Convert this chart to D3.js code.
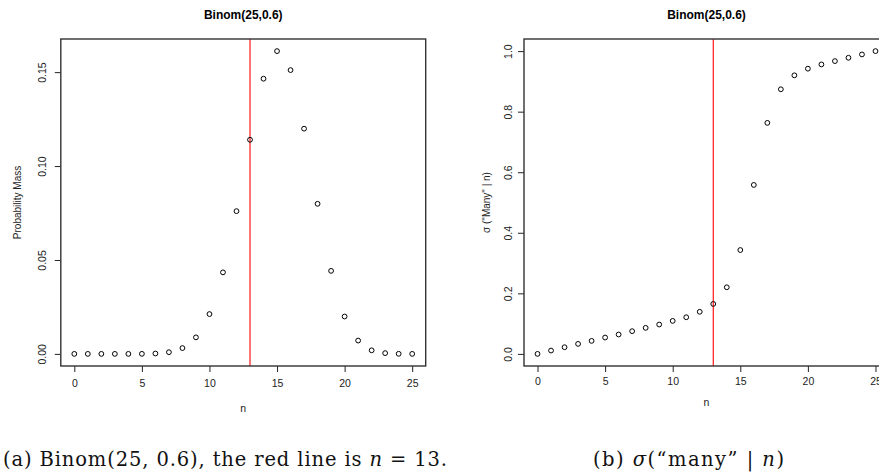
<!DOCTYPE html>
<html>
<head>
<meta charset="utf-8">
<script src="https://cdn.jsdelivr.net/npm/d3@7"></script>
<style>
  body { margin: 0; background: #fff; }
  svg { display: block; }
  .tick text { font-family: "Liberation Sans", Arial, sans-serif; }
</style>
</head>
<body>
<div id="chart"></div>
<script>
// Data
const nValues = d3.range(0, 26);
const pmfValues = [0.0000, 0.0000, 0.0000, 0.0000, 0.0000, 0.00003, 0.0002, 0.0009, 0.0031, 0.0088,
                   0.0212, 0.0434, 0.0760, 0.1140, 0.1465, 0.1612, 0.1511, 0.1199, 0.0799, 0.0442,
                   0.0199, 0.0071, 0.0019, 0.0004, 0.00005, 0.000003];
const sigmaValues = [0.000, 0.011, 0.022, 0.033, 0.043, 0.054, 0.064, 0.075, 0.086, 0.097,
                     0.109, 0.121, 0.139, 0.165, 0.220, 0.343, 0.558, 0.763, 0.874, 0.920,
                     0.942, 0.956, 0.967, 0.978, 0.989, 1.000];
const xTicks = [0, 5, 10, 15, 20, 25];
const pmfTicks = [0, 0.05, 0.10, 0.15];
const sigmaTicks = [0, 0.2, 0.4, 0.6, 0.8, 1.0];
const redLineAt = 13;

const W = 879, H = 476;
const svg = d3.select("#chart").append("svg")
    .attr("width", W).attr("height", H)
    .attr("viewBox", [0, 0, W, H]);

const sans = "'Liberation Sans', Arial, Helvetica, sans-serif";

function panel(opts) {
    const g = svg.append("g");
    const ext = (lo, hi) => [lo - 0.04 * (hi - lo), hi + 0.04 * (hi - lo)];

    const x = d3.scaleLinear().domain(ext(0, 25)).range([opts.left, opts.right]);
    const yMax = d3.max(opts.values);
    const y = d3.scaleLinear().domain(ext(0, yMax)).range([366, 39]);

    // x axis
    g.append("g")
        .attr("transform", `translate(0,${y.range()[0]})`)
        .call(d3.axisBottom(x).tickValues(xTicks).tickSize(6).tickPadding(opts.xPad))
        .call(a => a.select(".domain").remove())
        .call(a => a.selectAll("line").attr("stroke", "#222"))
        .call(a => a.selectAll("text").attr("font-size", 10.5).attr("fill", "#222"));

    // y axis with rotated labels, R style
    const ya = g.append("g")
        .attr("transform", `translate(${opts.left},0)`)
        .call(d3.axisLeft(y).tickValues(opts.yTicks).tickSize(6).tickFormat(d3.format(opts.yFmt)))
        .call(a => a.select(".domain").remove())
        .call(a => a.selectAll("line").attr("stroke", "#222"));
    ya.selectAll("text")
        .attr("font-size", 10.5).attr("fill", "#222")
        .attr("x", null).attr("dy", null)
        .attr("text-anchor", "middle")
        .attr("transform", `translate(${-opts.left + opts.yLabX},0) rotate(-90)`);

    // red reference line
    g.append("line")
        .attr("x1", x(redLineAt)).attr("x2", x(redLineAt))
        .attr("y1", y.range()[1]).attr("y2", y.range()[0])
        .attr("stroke", "#ff0000").attr("stroke-width", 1.1);

    // box
    g.append("rect")
        .attr("x", opts.left).attr("y", y.range()[1])
        .attr("width", opts.right - opts.left).attr("height", y.range()[0] - y.range()[1])
        .attr("fill", "none").attr("stroke", "#333").attr("stroke-width", 1.4);

    // points
    g.append("g").selectAll("circle")
        .data(nValues.map((n, i) => ({ n, v: opts.values[i] })))
        .join("circle")
        .attr("cx", d => x(d.n)).attr("cy", d => y(d.v))
        .attr("r", 2.4)
        .attr("fill", "none").attr("stroke", "#000").attr("stroke-width", 1);

    // title
    g.append("text")
        .attr("x", (opts.left + opts.right) / 2).attr("y", 19)
        .attr("text-anchor", "middle")
        .attr("font-family", sans).attr("font-weight", "bold").attr("font-size", 12)
        .text("Binom(25,0.6)");

    // axis titles
    g.append("text")
        .attr("x", (opts.left + opts.right) / 2).attr("y", opts.nY)
        .attr("text-anchor", "middle")
        .attr("font-family", sans).attr("font-size", 10.5).attr("fill", "#222")
        .text("n");
    g.append("text")
        .attr("transform", `translate(${opts.yTitleX},${(y.range()[0] + y.range()[1]) / 2}) rotate(-90)`)
        .attr("text-anchor", "middle")
        .attr("font-family", sans).attr("font-size", 10).attr("fill", "#222")
        .text(opts.yTitle);
}

panel({
    left: 60.8, right: 425.7, values: pmfValues, yTicks: pmfTicks, yFmt: ".2f",
    yLabX: 46, yTitleX: 21, yTitle: "Probability Mass", nY: 412, xPad: 8
});

panel({
    left: 524, right: 889, values: sigmaValues, yTicks: sigmaTicks, yFmt: ".1f",
    yLabX: 512, yTitleX: 490, yTitle: "σ (\"Many\" | n)", nY: 406, xPad: 6
});

// captions
const serif = "'DejaVu Serif', 'Liberation Serif', serif";
const capA = svg.append("text")
    .attr("x", 3).attr("y", 466)
    .attr("font-family", serif).attr("font-size", 19.5).attr("fill", "#111")
    .attr("textLength", 444).attr("lengthAdjust", "spacing");
capA.append("tspan").text("(a) Binom(25, 0.6), the red line is ");
capA.append("tspan").attr("font-style", "italic").text("n");
capA.append("tspan").text(" = 13.");

const capB = svg.append("text")
    .attr("x", 593).attr("y", 466)
    .attr("font-family", serif).attr("font-size", 19.5).attr("fill", "#111")
    .attr("textLength", 191).attr("lengthAdjust", "spacing");
capB.append("tspan").text("(b) ");
capB.append("tspan").attr("font-style", "italic").text("σ");
capB.append("tspan").text("(“many” | ");
capB.append("tspan").attr("font-style", "italic").text("n");
capB.append("tspan").text(")");
</script>
</body>
</html>
